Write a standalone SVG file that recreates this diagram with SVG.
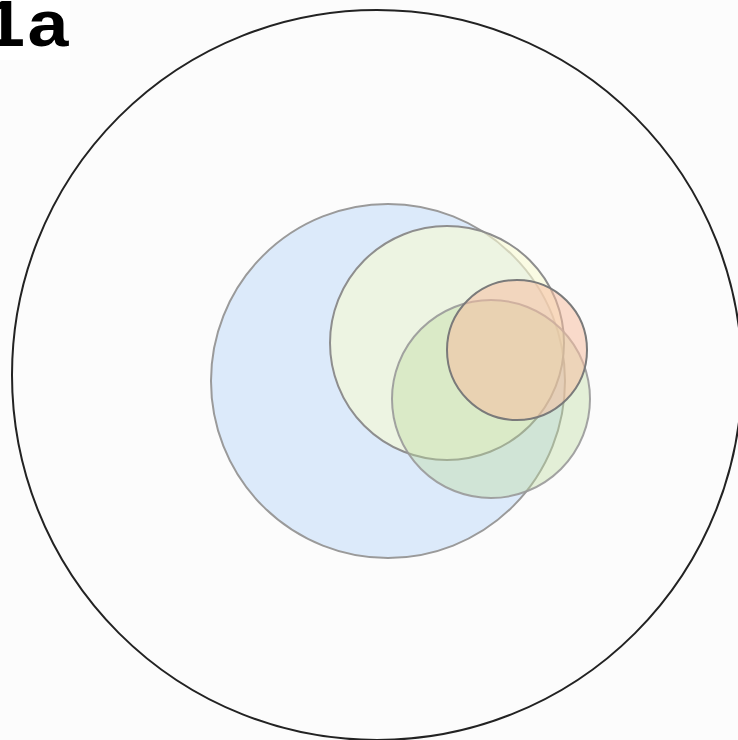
<svg xmlns="http://www.w3.org/2000/svg" width="738" height="740" viewBox="0 0 738 740">
<style>
.c{stroke-width:2}
</style>
<rect width="738" height="740" fill="#fcfcfc"/>
<rect width="70" height="60" fill="#ffffff"/>
<g id="outer"><circle cx="377" cy="375" r="365" fill="none" stroke="#222" stroke-width="2"/></g>
<g id="blue"><circle class="c" cx="388" cy="381" r="177" fill="#dceafa" stroke="#9a9a9a"/></g>
<g id="yellow"><circle class="c" cx="447" cy="343" r="117" fill="rgb(248,250,210)" fill-opacity="0.6" stroke="#8e8e8e"/></g>
<g id="green"><circle class="c" cx="491" cy="399" r="99" fill="rgb(190,220,160)" fill-opacity="0.4" stroke="#999" stroke-opacity="0.9"/></g>
<g id="pink"><circle class="c" cx="517" cy="350" r="70" fill="rgb(245,190,160)" fill-opacity="0.55" stroke="#7a7a7a"/></g>
<text transform="scale(1.15,1)" y="46" font-family="Liberation Sans, Arial, sans-serif" font-weight="bold" font-size="64" fill="#000"><tspan x="-14">1</tspan><tspan x="24">a</tspan></text>
</svg>
